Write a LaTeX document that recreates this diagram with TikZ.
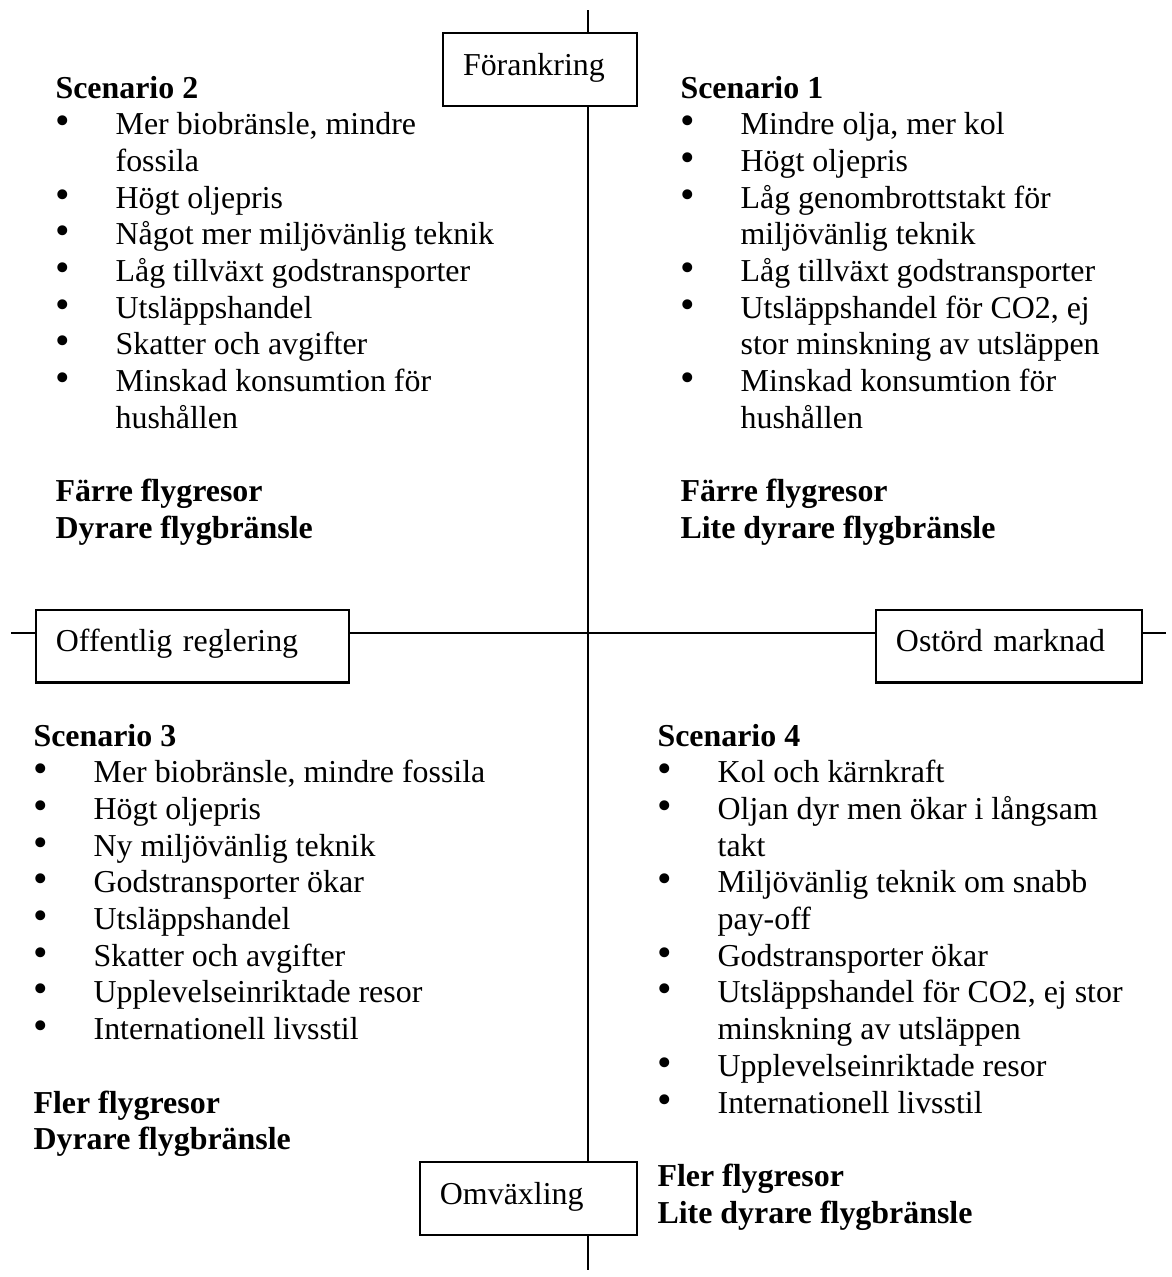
\documentclass[tikz,border=0pt]{standalone}
\usepackage{fontspec}
\setmainfont{Liberation Serif}
\usetikzlibrary{positioning}
\tikzset{
  axisline/.style={line width=0.6pt},
  axisbox/.style={draw, fill=white, line width=0.8pt, inner xsep=7.5pt, inner ysep=0pt,
    text height=8.5pt, text depth=4pt, minimum height=27.4pt, align=left},
  scentext/.style={anchor=base west, inner sep=0pt}
}
\newcommand{\blt}{\scalebox{1.3}{\textbullet}}

\begin{document}
\begin{tikzpicture}[x=0.376pt, y=-0.376pt, font=\fontsize{12pt}{13.8pt}\selectfont]
  \useasboundingbox (0,0) rectangle (1172,1277);

  % Axes
  \coordinate (axtop) at (588,10);
  \coordinate (axbot) at (588,1270);
  \coordinate (axleft) at (11,633);
  \coordinate (axright) at (1166,633);
  \draw[axisline] (axtop) -- (axbot);
  \draw[axisline] (axleft) -- (axright);

  % Axis labels
  \node[axisbox, text width=57.9pt] (forankring) at (540,69.5) {Förankring};
  \node[axisbox, text width=66.6pt] (omvaxling) at (528.5,1198.5) {Omväxling};
  \node[axisbox, text width=102.7pt] (offentlig) at (192.5,646) {Offentlig reglering};
  \node[axisbox, text width=85pt] (ostord) at (1009,646) {Ostörd marknad};

  % Scenario 2 (upper left)
  \node[scentext] (scen2) at (55,98) {\begin{tabular}[t]{@{}p{22.6pt}@{}l@{}}
    \multicolumn{2}{@{}l@{}}{\textbf{Scenario 2}} \\
    \blt & Mer biobränsle, mindre \\
    & fossila \\
    \blt & Högt oljepris \\
    \blt & Något mer miljövänlig teknik \\
    \blt & Låg tillväxt godstransporter \\
    \blt & Utsläppshandel \\
    \blt & Skatter och avgifter \\
    \blt & Minskad konsumtion för \\
    & hushållen \\
    & \\
    \multicolumn{2}{@{}l@{}}{\textbf{Färre flygresor}} \\
    \multicolumn{2}{@{}l@{}}{\textbf{Dyrare flygbränsle}}
  \end{tabular}};

  % Scenario 1 (upper right)
  \node[scentext] (scen1) at (680,98) {\begin{tabular}[t]{@{}p{22.6pt}@{}l@{}}
    \multicolumn{2}{@{}l@{}}{\textbf{Scenario 1}} \\
    \blt & Mindre olja, mer kol \\
    \blt & Högt oljepris \\
    \blt & Låg genombrottstakt för \\
    & miljövänlig teknik \\
    \blt & Låg tillväxt godstransporter \\
    \blt & Utsläppshandel för CO2, ej \\
    & stor minskning av utsläppen \\
    \blt & Minskad konsumtion för \\
    & hushållen \\
    & \\
    \multicolumn{2}{@{}l@{}}{\textbf{Färre flygresor}} \\
    \multicolumn{2}{@{}l@{}}{\textbf{Lite dyrare flygbränsle}}
  \end{tabular}};

  % Scenario 3 (lower left)
  \node[scentext] (scen3) at (33,746) {\begin{tabular}[t]{@{}p{22.6pt}@{}l@{}}
    \multicolumn{2}{@{}l@{}}{\textbf{Scenario 3}} \\
    \blt & Mer biobränsle, mindre fossila \\
    \blt & Högt oljepris \\
    \blt & Ny miljövänlig teknik \\
    \blt & Godstransporter ökar \\
    \blt & Utsläppshandel \\
    \blt & Skatter och avgifter \\
    \blt & Upplevelseinriktade resor \\
    \blt & Internationell livsstil \\
    & \\
    \multicolumn{2}{@{}l@{}}{\textbf{Fler flygresor}} \\
    \multicolumn{2}{@{}l@{}}{\textbf{Dyrare flygbränsle}}
  \end{tabular}};

  % Scenario 4 (lower right)
  \node[scentext] (scen4) at (657,746) {\begin{tabular}[t]{@{}p{22.6pt}@{}l@{}}
    \multicolumn{2}{@{}l@{}}{\textbf{Scenario 4}} \\
    \blt & Kol och kärnkraft \\
    \blt & Oljan dyr men ökar i långsam \\
    & takt \\
    \blt & Miljövänlig teknik om snabb \\
    & pay-off \\
    \blt & Godstransporter ökar \\
    \blt & Utsläppshandel för CO2, ej stor \\
    & minskning av utsläppen \\
    \blt & Upplevelseinriktade resor \\
    \blt & Internationell livsstil \\
    & \\
    \multicolumn{2}{@{}l@{}}{\textbf{Fler flygresor}} \\
    \multicolumn{2}{@{}l@{}}{\textbf{Lite dyrare flygbränsle}}
  \end{tabular}};
\end{tikzpicture}
\end{document}
